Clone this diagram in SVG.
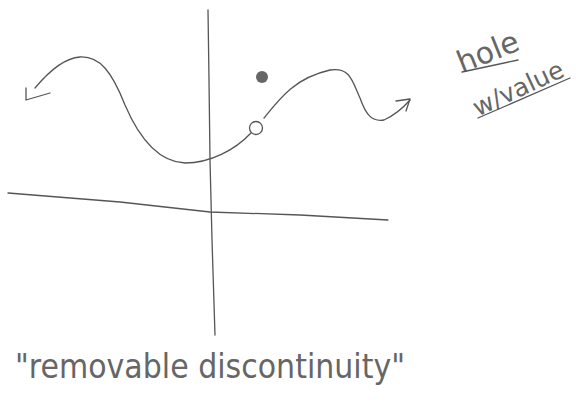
<svg xmlns="http://www.w3.org/2000/svg" width="576" height="404" viewBox="0 0 576 404">
<style>
.ln{fill:none;stroke:#555;stroke-width:1.3;stroke-linecap:round;stroke-linejoin:round}
.hw{font-family:"DejaVu Sans",sans-serif;fill:#666;font-weight:normal}
</style>
<rect width="576" height="404" fill="#fff"/>
<g id="axes">
<path class="ln" d="M208,10 L209,80 L210,160 L212,240 L215,335"/>
<path class="ln" d="M8,193 L120,202 L210,212 L300,215 L388,220"/>
</g>
<g id="connectors">
<path class="ln" d="M35,88 C50,70 65,58 80,57 C100,56 112,72 125,105 C140,140 160,162 185,163 C210,163 235,150 251,133"/>
<path class="ln" d="M26,88 L26,100 L50,93"/>
<path class="ln" d="M264,118 C280,98 295,78 330,70 C350,67 352,80 360,98 C366,115 372,122 384,120 C395,115 403,108 410,100"/>
<path class="ln" d="M396,101 L410,99 L406,111"/>
</g>
<g id="hole">
<circle cx="256" cy="128" r="6.5" fill="#fff" stroke="#555" stroke-width="1.3"/>
</g>
<g id="value-dot">
<circle cx="262" cy="77" r="6" fill="#666"/>
</g>
<g id="label">
<text class="hw" x="488" y="62" font-size="30" text-anchor="middle" transform="rotate(-22 488 52)">hole</text>
<path class="ln" d="M462,72 L518,60"/>
<text class="hw" x="518" y="97" font-size="25" text-anchor="middle" transform="rotate(-25 518 88)">w/value</text>
<path class="ln" d="M478,118 L570,78"/>
</g>
<g id="caption">
<text class="hw" x="15" y="378" font-size="34" textLength="390" lengthAdjust="spacingAndGlyphs" fill="#888">"removable discontinuity"</text>
</g>
</svg>
